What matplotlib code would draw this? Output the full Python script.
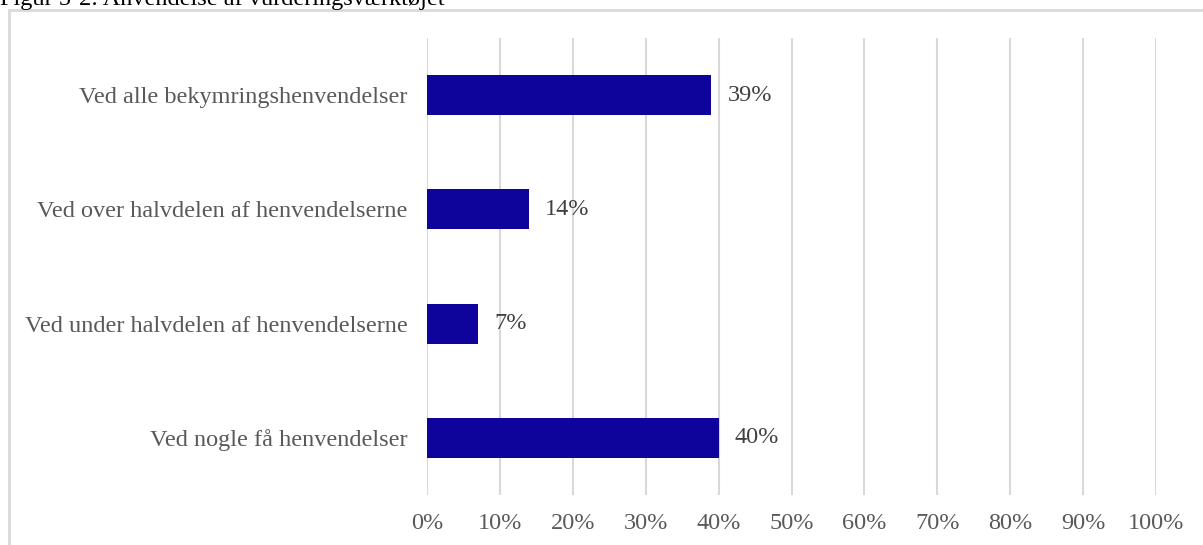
import matplotlib.pyplot as plt
from matplotlib.patches import Rectangle

categories = ['Ved alle bekymringshenvendelser',
              'Ved over halvdelen af henvendelserne',
              'Ved under halvdelen af henvendelserne',
              'Ved nogle få henvendelser']
values = [39, 14, 7, 40]
ticks = [0, 10, 20, 30, 40, 50, 60, 70, 80, 90, 100]
title = 'Figur 5-2: Anvendelse af vurderingsværktøjet'

plt.rcParams['font.family'] = ['Liberation Serif', 'DejaVu Serif']
fs = 17.5

fig = plt.figure(figsize=(12.03, 5.45), dpi=100)

# gray frame round the chart
fig.patches.append(Rectangle((9 / 1203, -0.05), 1.0, 1 - 10 / 545 + 0.05,
                             transform=fig.transFigure, fill=False,
                             edgecolor='#d9d9d9', linewidth=2))
fig.text(0.0, 1 - 4.5 / 545, title, fontsize=fs, va='baseline', ha='left')

ax = fig.add_axes([427 / 1203, 1 - 495 / 545, (1156 - 427) / 1203, (495 - 38) / 545])
y = range(len(categories))
ax.barh(y, values, height=0.35, color='#0e039b', zorder=3)
for i, v in enumerate(values):
    ax.text(v + 2.2, i, f'{v}%', va='center', ha='left', fontsize=fs, color='#404040')

ax.set_xlim(0, 100)
ax.set_ylim(3.5, -0.5)
ax.set_xticks(ticks)
ax.set_xticklabels([f'{t}%' for t in ticks], fontsize=fs, color='#595959')
ax.set_yticks(list(y))
ax.set_yticklabels(categories, fontsize=fs, color='#595959')
ax.tick_params(axis='both', length=0)
ax.tick_params(axis='x', pad=13)
ax.tick_params(axis='y', pad=14)
ax.xaxis.grid(True, color='#d9d9d9', linewidth=1.5, zorder=0)
for s in ax.spines.values():
    s.set_visible(False)

fig.savefig('out.png', dpi=100)
